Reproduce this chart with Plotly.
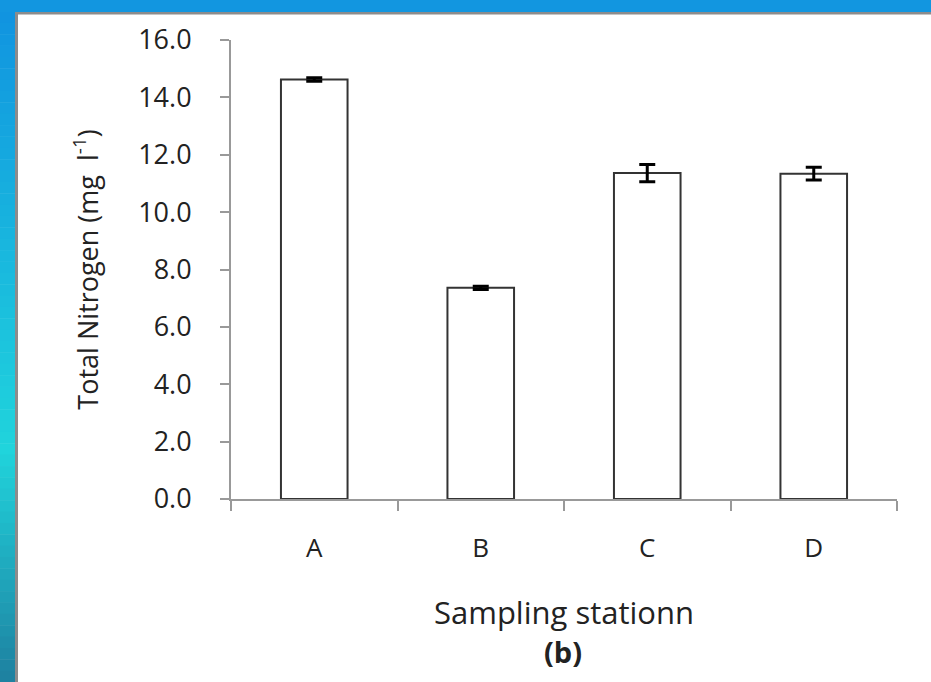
import plotly.graph_objects as go

categories = ["A", "B", "C", "D"]
values = [14.62, 7.36, 11.36, 11.34]
errors = [0.06, 0.06, 0.30, 0.22]
y_ticks = [0, 2, 4, 6, 8, 10, 12, 14, 16]
y_tick_labels = ["0.0", "2.0", "4.0", "6.0", "8.0", "10.0", "12.0", "14.0", "16.0"]

W, H = 931, 682
L, R, T, B = 231, 34, 40, 183
PW, PH = W - L - R, H - T - B

def px_x(x):
    return (x - L) / PW

def px_y(y):
    return 1 - (y - T) / PH

FONT = "Open Sans"
TXT = "#222222"

fig = go.Figure()
fig.add_trace(go.Bar(
    x=categories, y=values, width=0.4,
    marker=dict(color="white", line=dict(color="#333333", width=2)),
    error_y=dict(type="data", array=errors, visible=True, color="black", thickness=3, width=8),
    showlegend=False,
))

shapes = []
def lerp(c1, c2, t):
    return tuple(int(round(a + (b - a) * t)) for a, b in zip(c1, c2))

stops = [(0.0, (16, 146, 224)), (0.66, (32, 212, 220)), (1.0, (30, 128, 160))]
n = 60
for i in range(n):
    y0 = H * i / n
    y1 = H * (i + 1) / n
    t = (i + 0.5) / n
    for j in range(len(stops) - 1):
        if stops[j][0] <= t <= stops[j + 1][0]:
            tt = (t - stops[j][0]) / (stops[j + 1][0] - stops[j][0])
            c = lerp(stops[j][1], stops[j + 1][1], tt)
            break
    shapes.append(dict(type="rect", xref="paper", yref="paper",
                       x0=px_x(0), x1=px_x(15.5), y0=px_y(y1 + 0.5), y1=px_y(y0),
                       fillcolor="rgb(%d,%d,%d)" % c, line=dict(width=0), layer="below"))
shapes.append(dict(type="rect", xref="paper", yref="paper",
                   x0=px_x(0), x1=px_x(W), y0=px_y(12), y1=px_y(0),
                   fillcolor="#1296e0", line=dict(width=0), layer="below"))
shapes.append(dict(type="rect", xref="paper", yref="paper",
                   x0=px_x(15), x1=px_x(18), y0=px_y(H), y1=px_y(12),
                   fillcolor="#8c8c8c", line=dict(width=0), layer="below"))
shapes.append(dict(type="rect", xref="paper", yref="paper",
                   x0=px_x(15), x1=px_x(W), y0=px_y(14.5), y1=px_y(12),
                   fillcolor="#8c8c8c", line=dict(width=0), layer="below"))

fig.update_layout(
    width=W, height=H,
    margin=dict(l=L, r=R, t=T, b=B, pad=0),
    paper_bgcolor="white", plot_bgcolor="white",
    font=dict(family=FONT, color=TXT),
    shapes=shapes,
    xaxis=dict(
        type="category", tickson="boundaries", ticks="outside", ticklen=10,
        tickcolor="#999999", tickwidth=2, showline=True, linecolor="#999999", linewidth=2,
        tickfont=dict(size=26, family=FONT, color=TXT), ticklabelstandoff=25,
        showgrid=False, zeroline=False, range=[-0.5, 3.5],
        title=dict(text="Sampling stationn", font=dict(size=31, family=FONT, color=TXT), standoff=38),
    ),
    yaxis=dict(
        range=[0, 16], tickvals=y_ticks, ticktext=y_tick_labels,
        ticks="outside", ticklen=9, tickcolor="#999999", tickwidth=2,
        showline=True, linecolor="#999999", linewidth=2,
        tickfont=dict(size=27, family=FONT, color=TXT), ticklabelstandoff=23,
        showgrid=False, zeroline=False,
        title=dict(text="Total Nitrogen (mg  l<sup>-1</sup>)", font=dict(size=27, family=FONT, color=TXT), standoff=32),
    ),
    annotations=[dict(text="<b>(b)</b>", xref="paper", yref="paper",
                      x=px_x(563), y=px_y(651), xanchor="center", yanchor="middle",
                      showarrow=False, font=dict(size=29, family=FONT, color=TXT))],
)

fig.write_html("out.html", config={"displayModeBar": False},
               post_script="document.body.style.margin='0';document.body.style.overflow='hidden';")
